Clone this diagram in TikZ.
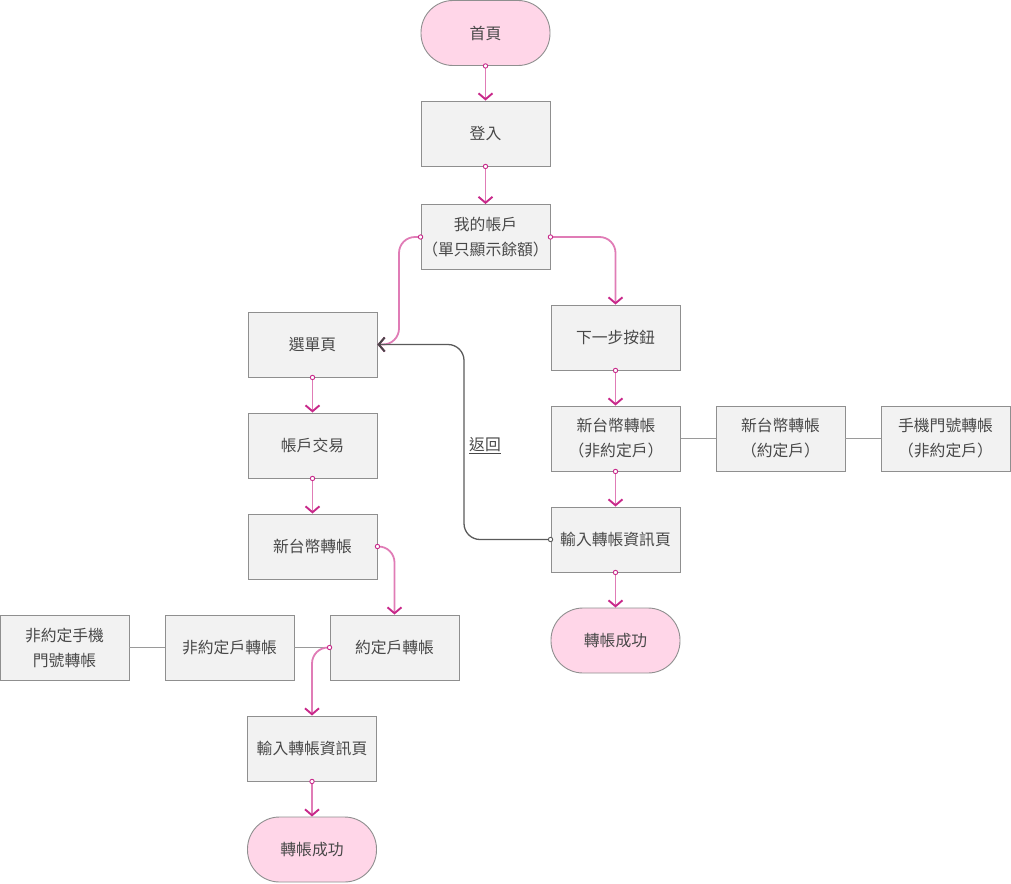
\documentclass[tikz,border=0pt]{standalone}
\usepackage{fontspec}
\setmainfont{Noto Sans CJK TC}
\usetikzlibrary{arrows.meta}
\definecolor{boxfill}{HTML}{F2F2F2}
\definecolor{boxline}{HTML}{8F8F8F}
\definecolor{termfill}{HTML}{FFD6E8}
\definecolor{pinkl}{HTML}{E07CB6}
\definecolor{pinkd}{HTML}{C8288A}
\definecolor{txt}{HTML}{484848}
\definecolor{grayl}{HTML}{9A9A9A}
\definecolor{grayd}{HTML}{5A5A5A}
\tikzset{
  box/.style={draw=boxline, fill=boxfill, line width=0.9pt, minimum width=129pt,
    minimum height=65pt, inner sep=0pt, text=txt,
    font=\fontsize{15.8}{25}\selectfont, align=center},
  term/.style={box, fill=termfill, rounded corners=32pt},
  flow/.style={draw=pinkl, line width=1.8pt,
    -{Straight Barb[length=6pt,width=14pt,line width=1.9pt,color=pinkd]}},
  flowr/.style={flow, rounded corners=16pt},
  link/.style={draw=grayl, line width=1.7pt},
  back/.style={draw=grayd, line width=1.3pt, rounded corners=16pt,
    -{Straight Barb[length=6pt,width=14pt,line width=1.9pt,color=grayd!80!black]}},
  dotp/.style={fill=white, draw=pinkd, line width=0.9pt},
  dotg/.style={fill=white, draw=grayd, line width=0.9pt},
}
\begin{document}
\begin{tikzpicture}[x=1pt,y=-1pt]
\useasboundingbox (0,0) rectangle (1011,883);
% main column
\node[term] (home) at (485.5,33) {首頁};
\node[box] (login) at (485.5,133.5) {登入};
\node[box] (acct) at (485.5,237) {我的帳戶\\（單只顯示餘額）};
% left column
\node[box] (menu) at (312.5,344.5) {選單頁};
\node[box] (trade) at (312.5,445.5) {帳戶交易};
\node[box] (ntdL) at (312.5,546.5) {新台幣轉帳};
\node[box] (agreed) at (394.5,647.5) {約定戶轉帳};
\node[box] (nonagreed) at (229.5,647.5) {非約定戶轉帳};
\node[box] (phoneL) at (64.5,647.5) {非約定手機\\門號轉帳};
\node[box] (inputL) at (312,748.5) {輸入轉帳資訊頁};
\node[term] (doneL) at (312,849.5) {轉帳成功};
% right column
\node[box] (next) at (615.5,337.5) {下一步按鈕};
\node[box] (ntdR) at (616,438.5) {新台幣轉帳\\（非約定戶）};
\node[box] (ntdA) at (780.5,438.5) {新台幣轉帳\\（約定戶）};
\node[box] (phoneR) at (945.5,438.5) {手機門號轉帳\\（非約定戶）};
\node[box] (inputR) at (615.5,539.5) {輸入轉帳資訊頁};
\node[term] (doneR) at (615.5,640.5) {轉帳成功};

% plain links
\draw[link] (ntdR) -- (ntdA);
\draw[link] (ntdA) -- (phoneR);
\draw[link] (phoneL) -- (nonagreed);
\draw[link] (nonagreed) -- (agreed);

% flows
\draw[flow] (home.south) -- (login.north);
\draw[flow] (login.south) -- (acct.north);
\draw[flowr] (acct.west) -- (399,237) -- (399,344.5) -- (menu.east);
\draw[flowr] (acct.east) -- (615.5,237) -- (next.north);
\draw[flow] (menu.south) -- (trade.north);
\draw[flow] (trade.south) -- (ntdL.north);
\draw[flowr] (ntdL.east) -- (394.5,546.5) -- (agreed.north);
\draw[flowr] (agreed.west) -- (312,647.5) -- (inputL.north);
\draw[flow] (inputL.south) -- (doneL.north);
\draw[flow] (next.south) -- (ntdR.north -| next.south);
\draw[flow] (ntdR.south -| next.south) -- (inputR.north);
\draw[flow] (inputR.south) -- (doneR.north);
% back link
\draw[back] (inputR.west) -- (464,539.5) -- (464,344.5) -- (menu.east);
\node[text=txt, font=\fontsize{15.8}{18}\selectfont, inner sep=0pt] (backlbl) at (485,446) {\underline{返回}};

% start dots
\foreach \p in {home.south, login.south, acct.west, acct.east, menu.south, trade.south,
  ntdL.east, agreed.west, inputL.south, next.south, inputR.south}
  \draw[dotp] (\p) circle (2.2pt);
\draw[dotp] (ntdR.south -| next.south) circle (2.2pt);
\draw[dotg] (inputR.west) circle (2.2pt);
\end{tikzpicture}
\end{document}
